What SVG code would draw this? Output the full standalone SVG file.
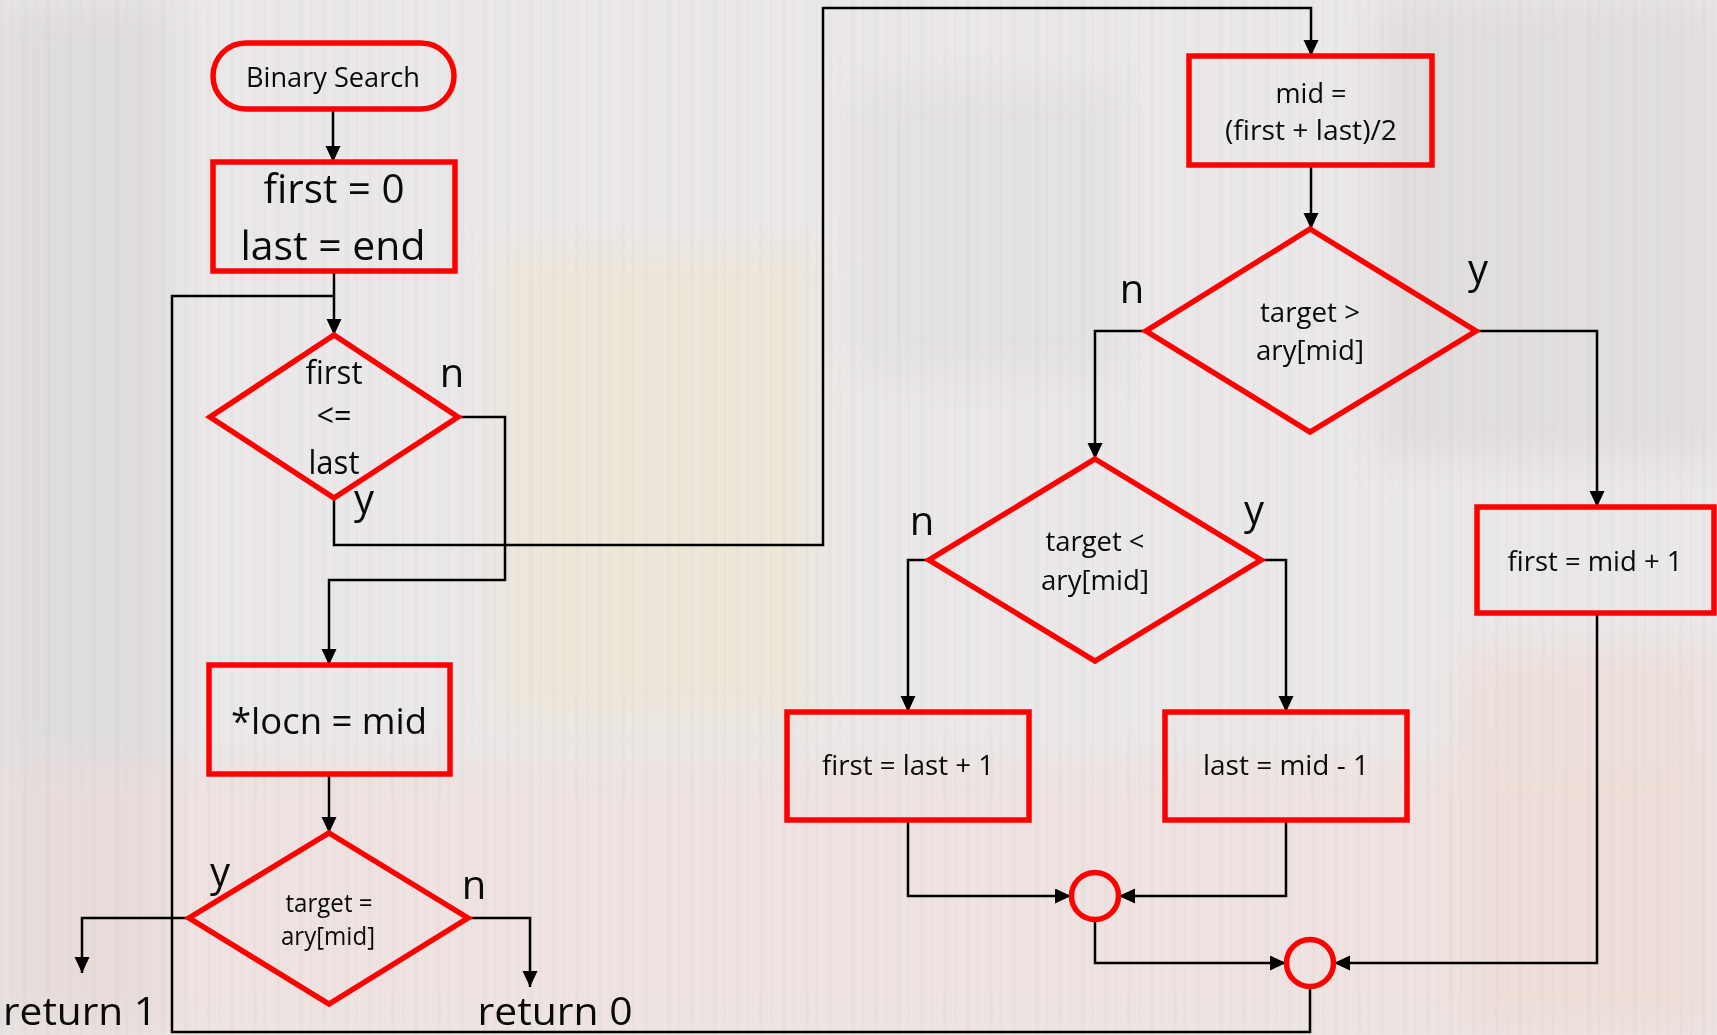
<svg xmlns="http://www.w3.org/2000/svg" width="1717" height="1035" viewBox="0 0 1717 1035">
  <defs>
    <marker id="arr" markerUnits="userSpaceOnUse" markerWidth="17" markerHeight="16" refX="16" refY="7.5" orient="auto">
      <path d="M0,0 L16,7.5 L0,15 z" fill="#000"/>
    </marker>
    <filter id="soft" x="-10%" y="-10%" width="120%" height="120%">
      <feGaussianBlur stdDeviation="18"/>
    </filter>
    <pattern id="stripes" width="23" height="1035" patternUnits="userSpaceOnUse">
      <rect x="0" y="0" width="4" height="1035" fill="#c9c2c4" opacity="0.25"/>
      <rect x="11" y="0" width="2" height="1035" fill="#d9cfc9" opacity="0.3"/>
    </pattern>
  </defs>
  <style>
    .shape { fill: none; stroke: #ff0000; stroke-width: 5.5; }
    .conn { fill: none; stroke: #000; stroke-width: 2.5; }
    .arrow { marker-end: url(#arr); }
    text { font-family: "Open Sans", "Liberation Sans", sans-serif; fill: #0a0a0a; text-anchor: middle; }
    .lbl { font-size: 40px; }
    .t28 { font-size: 28px; }
    .t25 { font-size: 25px; }
    .t32 { font-size: 32px; }
  </style>

  <!-- washed-out background -->
  <rect x="0" y="0" width="1717" height="1035" fill="#ebe8e9"/>
  <g filter="url(#soft)">
    <rect x="0" y="0" width="170" height="1035" fill="#d6d2d7" opacity="0.55"/>
    <rect x="500" y="250" width="320" height="470" fill="#efe5cc" opacity="0.55"/>
    <rect x="0" y="760" width="1717" height="275" fill="#f2dcd4" opacity="0.4"/>
    <rect x="1380" y="0" width="337" height="460" fill="#d9d5d6" opacity="0.55"/>
    <rect x="860" y="80" width="260" height="300" fill="#dedbdf" opacity="0.5"/>
    <rect x="1460" y="650" width="257" height="385" fill="#efd8cf" opacity="0.5"/>
  </g>
  <rect x="0" y="0" width="1717" height="1035" fill="url(#stripes)" opacity="0.5"/>

  <!-- connectors -->
  <g id="connectors">
    <path class="conn arrow" d="M333,109 V162"/>
    <path class="conn arrow" d="M334,271 V335"/>
    <path class="conn arrow" d="M458,417 H505 V580 H329 V665"/>
    <path class="conn arrow" d="M334,498 V545 H823 V8 H1311 V56"/>
    <path class="conn arrow" d="M1311,165 V229"/>
    <path class="conn arrow" d="M1146,331 H1095 V459"/>
    <path class="conn arrow" d="M1476,331 H1597 V507"/>
    <path class="conn arrow" d="M929,560 H908 V712"/>
    <path class="conn arrow" d="M1261,560 H1286 V712"/>
    <path class="conn arrow" d="M908,820 V896 H1071"/>
    <path class="conn arrow" d="M1286,820 V896 H1119"/>
    <path class="conn arrow" d="M1095,920 V963 H1286"/>
    <path class="conn arrow" d="M1597,613 V963 H1334"/>
    <path class="conn" d="M1310,987 V1032 H172 V296 H334"/>
    <path class="conn arrow" d="M329,774 V833"/>
    <path class="conn arrow" d="M189,918 H82 V973"/>
    <path class="conn arrow" d="M468,918 H530 V987"/>
  </g>

  <!-- nodes -->
  <g id="start">
    <rect class="shape" x="213" y="43" width="241" height="66" rx="33"/>
    <text class="t28" x="333" y="87" textLength="174" lengthAdjust="spacingAndGlyphs">Binary Search</text>
  </g>
  <g id="init">
    <rect class="shape" x="213" y="162" width="242" height="109"/>
    <text style="font-size:41px" x="334" y="203" textLength="141" lengthAdjust="spacingAndGlyphs">first = 0</text>
    <text style="font-size:41px" x="333" y="260" textLength="185" lengthAdjust="spacingAndGlyphs">last = end</text>
  </g>
  <g id="cond-loop">
    <polygon class="shape" points="334,335 458,417 334,498 210,417"/>
    <text class="t32" x="334" y="384" textLength="57" lengthAdjust="spacingAndGlyphs">first</text>
    <text class="t32" x="334" y="427" textLength="35" lengthAdjust="spacingAndGlyphs">&lt;=</text>
    <text class="t32" x="334" y="474" textLength="51" lengthAdjust="spacingAndGlyphs">last</text>
    <text class="lbl" x="452" y="387">n</text>
    <text class="lbl" x="364" y="513">y</text>
  </g>
  <g id="calc-mid">
    <rect class="shape" x="1189" y="56" width="243" height="109"/>
    <text class="t28" x="1311" y="103" textLength="71" lengthAdjust="spacingAndGlyphs">mid =</text>
    <text class="t28" x="1311" y="140" textLength="172" lengthAdjust="spacingAndGlyphs">(first + last)/2</text>
  </g>
  <g id="cond-greater">
    <polygon class="shape" points="1310,229 1476,331 1310,432 1146,331"/>
    <text class="t28" x="1310" y="322" textLength="100" lengthAdjust="spacingAndGlyphs">target &gt;</text>
    <text class="t28" x="1310" y="360" textLength="108" lengthAdjust="spacingAndGlyphs">ary[mid]</text>
    <text class="lbl" x="1132" y="303">n</text>
    <text class="lbl" x="1478" y="283">y</text>
  </g>
  <g id="cond-less">
    <polygon class="shape" points="1095,459 1261,560 1095,661 929,560"/>
    <text class="t28" x="1095" y="551" textLength="99" lengthAdjust="spacingAndGlyphs">target &lt;</text>
    <text class="t28" x="1095" y="590" textLength="108" lengthAdjust="spacingAndGlyphs">ary[mid]</text>
    <text class="lbl" x="922" y="535">n</text>
    <text class="lbl" x="1254" y="524">y</text>
  </g>
  <g id="set-first-last">
    <rect class="shape" x="787" y="712" width="242" height="108"/>
    <text class="t28" x="908" y="775" textLength="172" lengthAdjust="spacingAndGlyphs">first = last + 1</text>
  </g>
  <g id="set-last">
    <rect class="shape" x="1165" y="712" width="242" height="108"/>
    <text class="t28" x="1286" y="775" textLength="166" lengthAdjust="spacingAndGlyphs">last = mid - 1</text>
  </g>
  <g id="set-first">
    <rect class="shape" x="1477" y="507" width="237" height="106"/>
    <text class="t28" x="1595" y="571" textLength="175" lengthAdjust="spacingAndGlyphs">first = mid + 1</text>
  </g>
  <g id="join1">
    <circle class="shape" cx="1095" cy="896" r="23.5"/>
  </g>
  <g id="join2">
    <circle class="shape" cx="1310" cy="963" r="23.5"/>
  </g>
  <g id="set-locn">
    <rect class="shape" x="209" y="665" width="241" height="109"/>
    <text style="font-size:36px" x="329" y="734" textLength="196" lengthAdjust="spacingAndGlyphs">*locn = mid</text>
  </g>
  <g id="cond-found">
    <polygon class="shape" points="329,833 468,918 329,1004 189,918"/>
    <text class="t25" x="329" y="912" textLength="87" lengthAdjust="spacingAndGlyphs">target =</text>
    <text class="t25" x="328" y="945" textLength="94" lengthAdjust="spacingAndGlyphs">ary[mid]</text>
    <text class="lbl" x="220" y="886">y</text>
    <text class="lbl" x="474" y="899">n</text>
  </g>
  <g id="ret1">
    <text style="font-size:39px" x="80" y="1025" textLength="154" lengthAdjust="spacingAndGlyphs">return 1</text>
  </g>
  <g id="ret0">
    <text style="font-size:39px" x="555" y="1025" textLength="155" lengthAdjust="spacingAndGlyphs">return 0</text>
  </g>
</svg>
